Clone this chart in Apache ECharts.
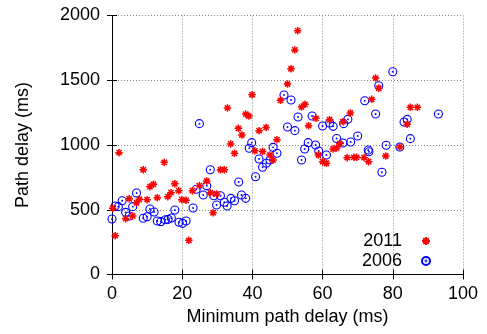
<!DOCTYPE html>
<html>
<head>
<meta charset="utf-8">
<script src="https://cdn.jsdelivr.net/npm/echarts@6/dist/echarts.min.js"></script>
<style>html,body{margin:0;padding:0;background:#fff}#c{width:487px;height:334px}</style>
</head>
<body>
<div id="c"></div>
<script>
var xTicks = [0, 20, 40, 60, 80, 100];
var yTicks = [0, 500, 1000, 1500, 2000];
var seriesNames = ['2011', '2006'];
var data2011 = [
  [0.2,512],[0.9,300],[2.0,941],[3.9,431],[4.9,585],[5.9,452],[7.0,554],[7.8,581],[8.9,809],
  [10.0,578],[10.8,678],[11.8,697],[12.9,593],[14.9,866],[15.9,601],[16.8,632],[17.9,701],
  [19.0,647],[19.9,578],[21.1,573],[21.9,264],[22.9,647],[24.9,686],[27.0,722],[28.0,632],
  [28.8,477],[29.8,622],[30.9,809],[32.0,809],[32.9,1286],[33.8,1008],[34.9,936],[36.0,1129],
  [37.0,1077],[38.1,1239],[39.0,1224],[39.9,1388],[40.7,955],[42.9,950],[41.9,1111],[43.9,1136],
  [45.0,923],[45.9,884],[47.0,1041],[48.0,1345],[50.0,1471],[51.0,1589],[52.1,1734],[52.9,1883],
  [54.0,1293],[55.0,1314],[56.0,1149],[58.1,1206],[58.8,923],[60.0,871],[61.1,859],[62.0,1195],
  [63.0,969],[64.0,977],[64.9,1012],[65.8,1180],[67.0,902],[67.9,1247],[68.9,905],[69.7,905],
  [71.8,902],[73.1,871],[74.0,1353],[75.1,1517],[76.0,1438],[78.0,915],[82.0,985],[84.1,1160],
  [85.0,1291],[87.0,1291]
];
var data2006 = [
  [0,429],[0.9,529],[1.8,524],[2.9,570],[3.9,480],[4.9,452],[5.9,524],[7.0,629],[8.9,434],
  [10.0,446],[10.8,506],[12.0,483],[12.9,413],[13.9,408],[15.2,423],[16.0,426],[16.9,436],
  [17.9,498],[19.1,403],[20.1,395],[21.1,413],[23.1,514],[24.0,658],[24.9,1165],[26.0,614],
  [27.0,686],[28.0,809],[29.0,608],[29.8,537],[30.9,608],[32.0,558],[32.8,529],[33.9,588],
  [34.9,570],[36.1,714],[36.9,614],[38.1,588],[39.1,975],[39.8,1018],[40.9,755],[41.9,892],
  [42.9,828],[44.0,859],[45.0,884],[45.9,982],[47.0,936],[49.0,1386],[50.0,1139],[51.0,1347],
  [52.1,1111],[53.0,1216],[54.0,884],[54.9,969],[55.9,1018],[57.0,1224],[58.0,1000],[58.9,954],
  [60.0,1147],[61.1,923],[62.0,1170],[63.0,1144],[64.0,1050],[65.8,1015],[66.0,1165],[67.2,1198],
  [68.0,1023],[70.0,1069],[72.0,1342],[73.0,961],[73.2,948],[75.1,1239],[76.0,1458],[76.9,789],
  [78.1,998],[80.0,1566],[82.0,985],[83.2,1178],[84.1,1198],[85.0,1049],[93.0,1239]
];

var FONT = "'Liberation Sans', Arial, sans-serif";
var starPath = 'path://M0,5L10,5M5,0L5,10M1.5,1.5L8.5,8.5M8.5,1.5L1.5,8.5';
var ringPath = 'path://M10,0A10,10 0 1,1 10,20A10,10 0 1,1 10,0ZM10,9A1,1 0 1,1 10,11A1,1 0 1,1 10,9Z';

function axisBase(extra) {
  var base = {
    axisLine: { show: true, lineStyle: { color: '#000', width: 1 } },
    axisTick: { show: true, inside: true, length: 5, lineStyle: { color: '#000' } },
    splitLine: { show: false },
    axisLabel: { show: false }
  };
  for (var k in extra) base[k] = extra[k];
  return base;
}
function plain(v) { return String(v); }

var chart = echarts.init(document.getElementById('c'), null, { renderer: 'canvas' });
chart.setOption({
  animation: false,
  backgroundColor: '#fff',
  textStyle: { fontFamily: FONT },
  grid: { left: 112, right: 24, top: 15.5, bottom: 59.5, containLabel: false },
  xAxis: [
    axisBase({
      type: 'value', position: 'bottom', min: xTicks[0], max: xTicks[xTicks.length - 1], interval: 20,
      name: 'Minimum path delay (ms)', nameLocation: 'middle', nameGap: 30,
      nameTextStyle: { fontSize: 18, color: '#000', fontFamily: FONT },
      axisLabel: { show: true, fontSize: 18, color: '#000', margin: 11, fontFamily: FONT, formatter: plain },
      splitLine: { show: true, lineStyle: { color: '#888', type: [1, 2], width: 1 } }
    }),
    axisBase({ type: 'value', position: 'top', min: 0, max: 100, interval: 20 })
  ],
  yAxis: [
    axisBase({
      type: 'value', position: 'left', min: yTicks[0], max: yTicks[yTicks.length - 1], interval: 500,
      name: 'Path delay (ms)', nameLocation: 'middle', nameGap: 80,
      nameTextStyle: { fontSize: 18, color: '#000', fontFamily: FONT },
      axisLabel: { show: true, fontSize: 18, color: '#000', margin: 12, fontFamily: FONT, formatter: plain },
      splitLine: { show: true, lineStyle: { color: '#888', type: [1, 2], width: 1 } }
    }),
    axisBase({ type: 'value', position: 'right', min: 0, max: 2000, interval: 500 })
  ],
  legend: {
    data: seriesNames,
    orient: 'vertical',
    align: 'right',
    right: 56,
    top: 232,
    padding: 0,
    itemWidth: 8,
    itemHeight: 8,
    itemGap: 2,
    textStyle: { fontSize: 18, color: '#000', fontFamily: FONT, padding: [0, 15, 0, 0] }
  },
  series: [
    {
      name: seriesNames[0], type: 'scatter', xAxisIndex: 0, yAxisIndex: 0,
      symbol: starPath, symbolSize: 7.5,
      itemStyle: { color: 'transparent', borderColor: '#ff0000', borderWidth: 1.5, opacity: 1 },
      data: data2011, z: 3
    },
    {
      name: seriesNames[1], type: 'scatter', xAxisIndex: 0, yAxisIndex: 0,
      symbol: ringPath, symbolSize: 8,
      itemStyle: { color: 'transparent', borderColor: '#0000ff', borderWidth: 1.1, opacity: 1 },
      data: data2006, z: 2
    }
  ]
});
</script>
</body>
</html>
